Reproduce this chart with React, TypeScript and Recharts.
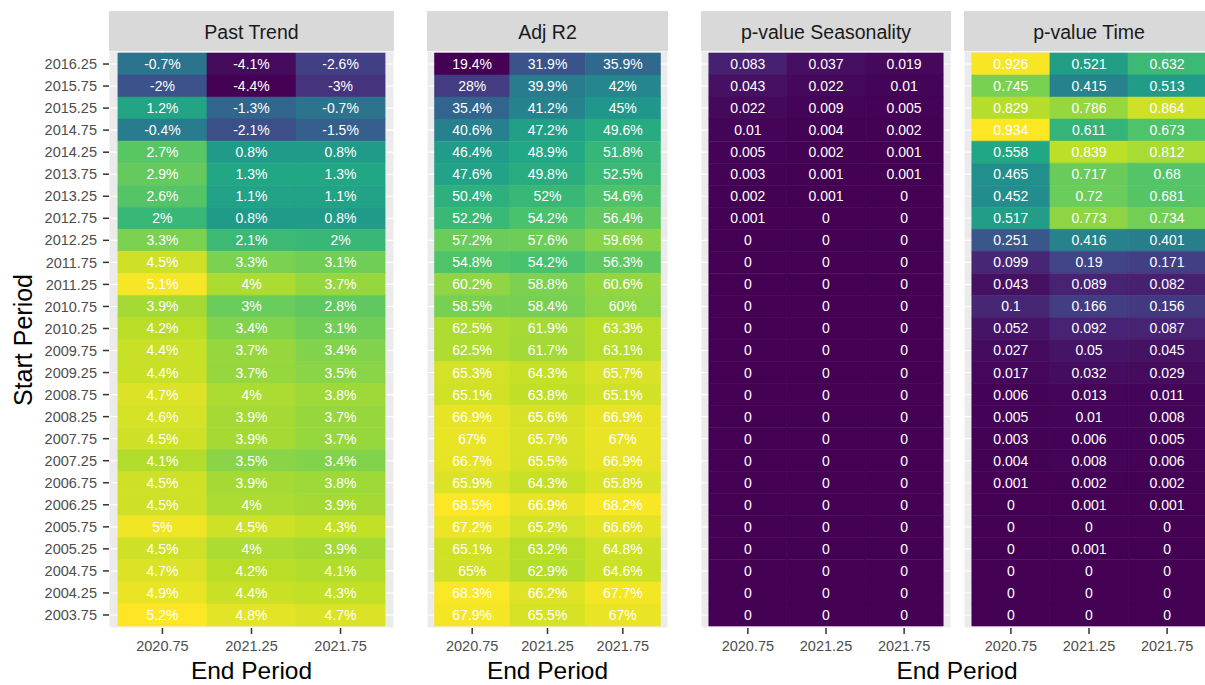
import React from "react";
import { BarChart, Bar, XAxis, YAxis, CartesianGrid, Cell, LabelList } from "recharts";

const startPeriods = [
  "2016.25", "2015.75", "2015.25", "2014.75", "2014.25", "2013.75", "2013.25",
  "2012.75", "2012.25", "2011.75", "2011.25", "2010.75", "2010.25", "2009.75",
  "2009.25", "2008.75", "2008.25", "2007.75", "2007.25", "2006.75", "2006.25",
  "2005.75", "2005.25", "2004.75", "2004.25", "2003.75",
];
const endPeriods = ["2020.75", "2021.25", "2021.75"];

// percent
const pastTrend = [
  [-0.7, -4.1, -2.6], [-2, -4.4, -3], [1.2, -1.3, -0.7], [-0.4, -2.1, -1.5],
  [2.7, 0.8, 0.8], [2.9, 1.3, 1.3], [2.6, 1.1, 1.1], [2, 0.8, 0.8],
  [3.3, 2.1, 2], [4.5, 3.3, 3.1], [5.1, 4, 3.7], [3.9, 3, 2.8],
  [4.2, 3.4, 3.1], [4.4, 3.7, 3.4], [4.4, 3.7, 3.5], [4.7, 4, 3.8],
  [4.6, 3.9, 3.7], [4.5, 3.9, 3.7], [4.1, 3.5, 3.4], [4.5, 3.9, 3.8],
  [4.5, 4, 3.9], [5, 4.5, 4.3], [4.5, 4, 3.9], [4.7, 4.2, 4.1],
  [4.9, 4.4, 4.3], [5.2, 4.8, 4.7],
];

// percent
const adjR2 = [
  [19.4, 31.9, 35.9], [28, 39.9, 42], [35.4, 41.2, 45], [40.6, 47.2, 49.6],
  [46.4, 48.9, 51.8], [47.6, 49.8, 52.5], [50.4, 52, 54.6], [52.2, 54.2, 56.4],
  [57.2, 57.6, 59.6], [54.8, 54.2, 56.3], [60.2, 58.8, 60.6], [58.5, 58.4, 60],
  [62.5, 61.9, 63.3], [62.5, 61.7, 63.1], [65.3, 64.3, 65.7], [65.1, 63.8, 65.1],
  [66.9, 65.6, 66.9], [67, 65.7, 67], [66.7, 65.5, 66.9], [65.9, 64.3, 65.8],
  [68.5, 66.9, 68.2], [67.2, 65.2, 66.6], [65.1, 63.2, 64.8], [65, 62.9, 64.6],
  [68.3, 66.2, 67.7], [67.9, 65.5, 67],
];

const pSeasonality = [
  [0.083, 0.037, 0.019], [0.043, 0.022, 0.01], [0.022, 0.009, 0.005], [0.01, 0.004, 0.002],
  [0.005, 0.002, 0.001], [0.003, 0.001, 0.001], [0.002, 0.001, 0], [0.001, 0, 0],
  [0, 0, 0], [0, 0, 0], [0, 0, 0], [0, 0, 0], [0, 0, 0], [0, 0, 0], [0, 0, 0],
  [0, 0, 0], [0, 0, 0], [0, 0, 0], [0, 0, 0], [0, 0, 0], [0, 0, 0], [0, 0, 0],
  [0, 0, 0], [0, 0, 0], [0, 0, 0], [0, 0, 0],
];

const pTime = [
  [0.926, 0.521, 0.632], [0.745, 0.415, 0.513], [0.829, 0.786, 0.864], [0.934, 0.611, 0.673],
  [0.558, 0.839, 0.812], [0.465, 0.717, 0.68], [0.452, 0.72, 0.681], [0.517, 0.773, 0.734],
  [0.251, 0.416, 0.401], [0.099, 0.19, 0.171], [0.043, 0.089, 0.082], [0.1, 0.166, 0.156],
  [0.052, 0.092, 0.087], [0.027, 0.05, 0.045], [0.017, 0.032, 0.029], [0.006, 0.013, 0.011],
  [0.005, 0.01, 0.008], [0.003, 0.006, 0.005], [0.004, 0.008, 0.006], [0.001, 0.002, 0.002],
  [0, 0.001, 0.001], [0, 0, 0], [0, 0.001, 0], [0, 0, 0], [0, 0, 0], [0, 0, 0],
];

const VIRIDIS = [
  "#440154", "#482475", "#414487", "#355F8D", "#2A788E", "#21918C",
  "#22A884", "#44BF70", "#7AD151", "#BDDF26", "#FDE725",
];

const hexRgb = (h: string) => [1, 3, 5].map((k) => parseInt(h.slice(k, k + 2), 16));

function viridis(t: number) {
  const x = Math.min(1, Math.max(0, t)) * (VIRIDIS.length - 1);
  const i = Math.min(Math.floor(x), VIRIDIS.length - 2);
  const f = x - i;
  const a = hexRgb(VIRIDIS[i]);
  const b = hexRgb(VIRIDIS[i + 1]);
  const c = a.map((v, k) => Math.round(v + (b[k] - v) * f));
  return `rgb(${c[0]},${c[1]},${c[2]})`;
}

const range = (...ms: number[][][]) => {
  const all = ms.flatMap((m) => m.flat());
  return [Math.min(...all), Math.max(...all)];
};

const pct = (v: any) => `${v}%`;
const plain = (v: any) => `${v}`;

const xTicks = endPeriods.map((_, i) => i + 0.5);
const FONT = "'Liberation Sans', Arial, Helvetica, sans-serif";

type PanelProps = {
  values: number[][];
  lo: number;
  hi: number;
  fmt: (v: any) => string;
  left: number;
  width: number;
  showY?: boolean;
};

function Panel({ values, lo, hi, fmt, left, width, showY }: PanelProps) {
  const rows = startPeriods.map((s, i) => ({
    start: s,
    w0: 1, w1: 1, w2: 1,
    v0: values[i][0], v1: values[i][1], v2: values[i][2],
  }));
  const yw = showY ? 109 : 0;
  return (
    <div style={{ position: "absolute", left: left - yw, top: 0 }}>
      <BarChart
        width={width + yw}
        height={685}
        data={rows}
        layout="vertical"
        margin={{ top: 51, right: 0, bottom: 0, left: 0 }}
        barCategoryGap={0}
      >
        <CartesianGrid fill="#EBEBEB" fillOpacity={1} stroke="#FFFFFF" strokeWidth={1.1} />
        <XAxis
          type="number"
          domain={[-0.1, 3.1]}
          ticks={xTicks}
          interval={0}
          allowDataOverflow
          tickFormatter={(v) => endPeriods[Math.round(v - 0.5)]}
          axisLine={false}
          tickSize={6}
          tickMargin={7}
          tickLine={{ stroke: "#333333", strokeWidth: 1.5 }}
          tick={{ fill: "#4D4D4D", fontSize: 14.5 }}
          height={57}
        />
        <YAxis
          type="category"
          dataKey="start"
          hide={!showY}
          width={yw}
          interval={0}
          padding={{ top: 2, bottom: 2 }}
          axisLine={false}
          tickSize={6}
          tickMargin={6}
          tickLine={{ stroke: "#333333", strokeWidth: 1.5 }}
          tick={{ fill: "#4D4D4D", fontSize: 14.5 }}
        />
        {[0, 1, 2].map((j) => (
          <Bar key={j} dataKey={`w${j}`} stackId="tile" isAnimationActive={false}>
            {rows.map((_, i) => {
              const c = viridis((values[i][j] - lo) / (hi - lo));
              return <Cell key={i} fill={c} stroke={c} strokeWidth={0.6} />;
            })}
            <LabelList
              dataKey={`v${j}`}
              position="center"
              formatter={fmt}
              fill="#FFFFFF"
              fontSize={14}
            />
          </Bar>
        ))}
      </BarChart>
    </div>
  );
}

const strips = [
  { label: "Past Trend", x0: 109, x1: 394 },
  { label: "Adj R2", x0: 427, x1: 668 },
  { label: "p-value Seasonality", x0: 701, x1: 951 },
  { label: "p-value Time", x0: 964, x1: 1214 },
];

export default function App() {
  const [ptLo, ptHi] = range(pastTrend);
  const [arLo, arHi] = range(adjR2);
  const [pLo, pHi] = range(pSeasonality, pTime);
  return (
    <div
      style={{
        position: "absolute",
        left: 0,
        top: 0,
        width: 1205,
        height: 685,
        overflow: "hidden",
        background: "#FFFFFF",
        fontFamily: FONT,
      }}
    >
      <Panel values={pastTrend} lo={ptLo} hi={ptHi} fmt={pct} left={109} width={285} showY />
      <Panel values={adjR2} lo={arLo} hi={arHi} fmt={pct} left={427} width={241} />
      <Panel values={pSeasonality} lo={pLo} hi={pHi} fmt={plain} left={701} width={250} />
      <Panel values={pTime} lo={pLo} hi={pHi} fmt={plain} left={964} width={250} />
      <svg
        width={1205}
        height={685}
        style={{ position: "absolute", left: 0, top: 0, pointerEvents: "none", fontFamily: FONT }}
      >
        {strips.map((s) => (
          <g key={s.label}>
            <rect x={s.x0} y={11} width={s.x1 - s.x0} height={40} fill="#D9D9D9" />
            <text x={(s.x0 + s.x1) / 2} y={39} textAnchor="middle" fontSize={19.5} fill="#1A1A1A">
              {s.label}
            </text>
          </g>
        ))}
        <text x={251.5} y={679} textAnchor="middle" fontSize={24.5} fill="#000000">End Period</text>
        <text x={547.5} y={679} textAnchor="middle" fontSize={24.5} fill="#000000">End Period</text>
        <text x={957} y={679} textAnchor="middle" fontSize={24.5} fill="#000000">End Period</text>
        <text transform="translate(32, 340) rotate(-90)" textAnchor="middle" fontSize={25} fill="#000000">
          Start Period
        </text>
      </svg>
    </div>
  );
}
